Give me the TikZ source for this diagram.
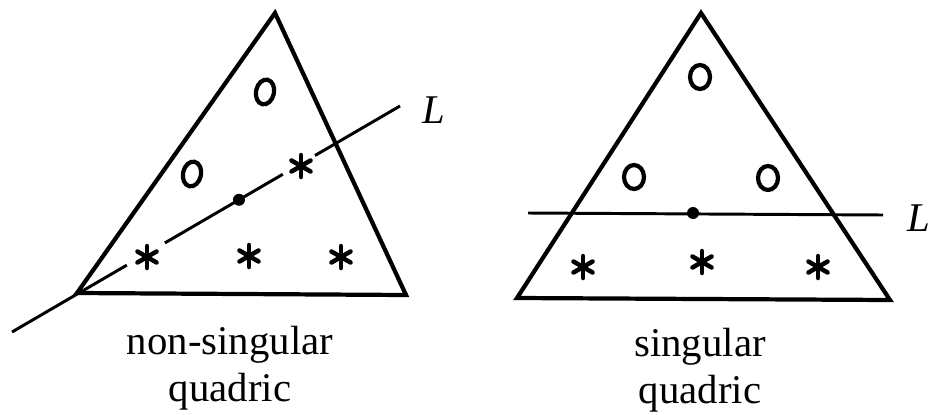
\documentclass[tikz,border=0pt]{standalone}
\usepackage{fontspec}
\setmainfont{Liberation Serif}
\usetikzlibrary{calc}

\begin{document}
\begin{tikzpicture}[x=0.025cm, y=-0.025cm,
  edge/.style={line width=3pt, line join=miter},
  lline/.style={line width=2.1pt},
  omark/.style={line width=3pt},
  smark/.style={line width=3.2pt, line cap=round},
  caption/.style={font=\fontsize{29}{33.5}\selectfont, align=center},
  lbl/.style={font=\fontsize{29}{35}\selectfont\itshape}]
  \useasboundingbox (0,0) rectangle (931,414);
  % Non-singular quadric
  \coordinate (a1) at (275,13);
  \coordinate (b1) at (77,293);
  \coordinate (c1) at (406,295);
  \draw[edge] (a1) -- (b1) -- (c1) -- cycle;
  % Line L through the vertex, broken at the stars
  \coordinate (ls) at (12,332);
  \coordinate (le) at (400,106);
  \draw[lline] (ls) -- ($(ls)!0.296!(le)$);
  \draw[lline] ($(ls)!0.394!(le)$) -- ($(ls)!0.698!(le)$);
  \draw[lline] ($(ls)!0.781!(le)$) -- (le);
  \fill ($(ls)!0.585!(le)$) circle (6);
  \node[lbl] (l1) at (434,110) {L};
  % Marks
  \foreach \x/\y in {265/92, 192/174}{
    \draw[omark, rotate around={-12:(\x,\y)}] (\x,\y) ellipse (9 and 12.5);
  }
  \foreach \x/\y in {147/257, 301/166, 249/256, 341/257}{
    \foreach \a in {30,90,150}{
      \draw[smark] (\x,\y) ++(\a:11) -- ++(\a+180:22);
    }
  }
  \node[caption] (cap1) at (230,368) {non-singular\\quadric};

  % Singular quadric
  \coordinate (a2) at (701,13);
  \coordinate (b2) at (517,298);
  \coordinate (c2) at (890,300);
  \draw[edge] (a2) -- (b2) -- (c2) -- cycle;
  % Line L through the singular point
  \coordinate (ms) at (528,213);
  \coordinate (me) at (883,215);
  \draw[lline] (ms) -- (me);
  \fill (693,213) circle (6);
  \node[lbl] (l2) at (919,218) {L};
  % Marks
  \foreach \x/\y in {700/77, 634/177, 768/178}{
    \draw[omark] (\x,\y) ellipse (10 and 12);
  }
  \foreach \x/\y in {583/267, 702/262, 818/267}{
    \foreach \a in {30,90,150}{
      \draw[smark] (\x,\y) ++(\a:11) -- ++(\a+180:22);
    }
  }
  \node[caption] (cap2) at (700,370) {singular\\quadric};
\end{tikzpicture}
\end{document}
